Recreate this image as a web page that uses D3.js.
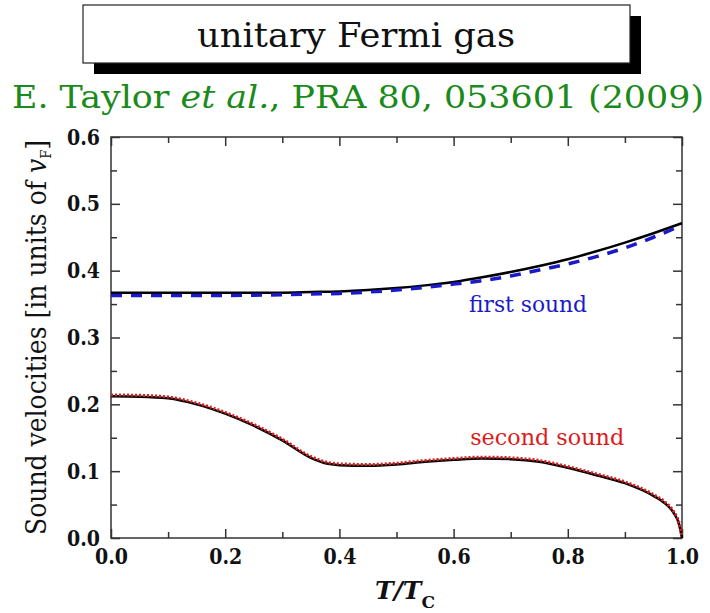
<!DOCTYPE html>
<html>
<head>
<meta charset="utf-8">
<script src="https://cdn.jsdelivr.net/npm/d3@7"></script>
<style>
  html, body { margin: 0; padding: 0; background: #fff; }
  svg { display: block; }
</style>
</head>
<body>
<svg id="chart" width="710" height="613"></svg>
<script>
// first sound (T/Tc grid)
const tFirst = [0, 0.1, 0.2, 0.3, 0.35, 0.4, 0.45, 0.5, 0.55, 0.6, 0.65, 0.7, 0.75, 0.8, 0.85, 0.9, 0.95, 1.0]
const firstSoundBlack = [0.367, 0.367, 0.367, 0.367, 0.368, 0.369, 0.371, 0.374, 0.378, 0.383, 0.390, 0.398, 0.407, 0.417, 0.429, 0.442, 0.456, 0.471]
const firstSoundBlue = [0.363, 0.363, 0.363, 0.364, 0.365, 0.366, 0.368, 0.371, 0.375, 0.380, 0.385, 0.392, 0.401, 0.410, 0.421, 0.434, 0.450, 0.468]

// second sound
const tSecond = [0, 0.05, 0.1, 0.15, 0.2, 0.25, 0.3, 0.35, 0.38, 0.4, 0.45, 0.5, 0.55, 0.6, 0.65, 0.7, 0.75, 0.8, 0.85, 0.9, 0.95, 0.97, 0.985, 0.995, 1.0]
const secondSoundBlack = [0.212, 0.2115, 0.209, 0.200, 0.186, 0.168, 0.146, 0.120, 0.111, 0.109, 0.108, 0.110, 0.114, 0.117, 0.119, 0.118, 0.114, 0.105, 0.094, 0.082, 0.063, 0.052, 0.038, 0.020, 0.0]
const secondSoundRed = [0.214, 0.2135, 0.211, 0.202, 0.188, 0.170, 0.148, 0.122, 0.113, 0.111, 0.110, 0.112, 0.116, 0.119, 0.121, 0.120, 0.116, 0.107, 0.096, 0.084, 0.065, 0.054, 0.040, 0.022, 0.002]

const xTickLabels = ['0.0', '0.2', '0.4', '0.6', '0.8', '1.0']
const yTickLabels = ['0.0', '0.1', '0.2', '0.3', '0.4', '0.5', '0.6']

// curve labels [T, value, text, colour, width]
const curveLabels = [
  [0.627, 0.338, 'first sound', '#1a1ac8', 118],
  [0.629, 0.139, 'second sound', '#dd1a1a', 154],
]

const serif = 'DejaVu Serif'
const marginLeft = 111
const marginTop = 137
const width = 571
const height = 401

const svg = d3.select('#chart')

// title box with shadow
svg.append('rect')
  .attr('x', 94).attr('y', 16).attr('width', 547).attr('height', 58)
  .attr('fill', '#000')
svg.append('rect')
  .attr('x', 83).attr('y', 5).attr('width', 547).attr('height', 58)
  .attr('fill', '#fff').attr('stroke', '#222').attr('stroke-width', 1.2)
svg.append('text')
  .attr('x', 356).attr('y', 47)
  .attr('text-anchor', 'middle')
  .attr('font-family', serif)
  .attr('font-size', 34)
  .attr('textLength', 318)
  .attr('lengthAdjust', 'spacingAndGlyphs')
  .attr('fill', '#111')
  .text('unitary Fermi gas')

// reference line (green)
const ref = svg.append('text')
  .attr('x', 12).attr('y', 108)
  .attr('font-family', serif)
  .attr('font-size', 31)
  .attr('fill', '#1a8a1a')
  .attr('textLength', 692)
  .attr('lengthAdjust', 'spacingAndGlyphs')
ref.append('tspan').text('E. Taylor ')
ref.append('tspan').attr('font-style', 'italic').text('et al.')
ref.append('tspan').text(', PRA 80, 053601 (2009)')

const x = d3.scaleLinear().domain([0, 1]).range([0, width])
const y = d3.scaleLinear().domain([0, 0.6]).range([height, 0])

const g = svg.append('g').attr('transform', `translate(${marginLeft} ${marginTop})`)

const tickFont = (sel) => sel.selectAll('text')
  .attr('font-family', serif)
  .attr('font-weight', 'bold')
  .attr('font-size', 22)
  .attr('fill', '#111')
  .attr('textLength', 33)
  .attr('lengthAdjust', 'spacingAndGlyphs')

const noDomain = (sel) => sel.select('.domain').remove()
const tickStyle = (sel) => sel.selectAll('line').attr('stroke', '#333').attr('stroke-width', 1.5)

const xMajor = d3.range(0, 1.0001, 0.2)
const xMinor = d3.range(0.1, 1, 0.2)
const yMajor = d3.range(0, 0.6001, 0.1)
const yMinor = d3.range(0.05, 0.6, 0.1)

// bottom axis
g.append('g').attr('transform', `translate(0 ${height})`)
  .call(d3.axisBottom(x).tickValues(xMajor).tickSize(-9).tickPadding(10)
    .tickFormat((d, i) => xTickLabels[i]))
  .call(noDomain).call(tickStyle).call(tickFont)
g.append('g').attr('transform', `translate(0 ${height})`)
  .call(d3.axisBottom(x).tickValues(xMinor).tickSize(-6).tickFormat(''))
  .call(noDomain).call(tickStyle)

// top axis
g.append('g')
  .call(d3.axisTop(x).tickValues(xMajor).tickSize(-9).tickFormat(''))
  .call(noDomain).call(tickStyle)
g.append('g')
  .call(d3.axisTop(x).tickValues(xMinor).tickSize(-6).tickFormat(''))
  .call(noDomain).call(tickStyle)

// left axis
g.append('g')
  .call(d3.axisLeft(y).tickValues(yMajor).tickSize(-9).tickPadding(11)
    .tickFormat((d, i) => yTickLabels[i]))
  .call(noDomain).call(tickStyle).call(tickFont)
g.append('g')
  .call(d3.axisLeft(y).tickValues(yMinor).tickSize(-6).tickFormat(''))
  .call(noDomain).call(tickStyle)

// right axis
g.append('g').attr('transform', `translate(${width} 0)`)
  .call(d3.axisRight(y).tickValues(yMajor).tickSize(-9).tickFormat(''))
  .call(noDomain).call(tickStyle)
g.append('g').attr('transform', `translate(${width} 0)`)
  .call(d3.axisRight(y).tickValues(yMinor).tickSize(-6).tickFormat(''))
  .call(noDomain).call(tickStyle)

// frame
g.append('rect')
  .attr('width', width).attr('height', height)
  .attr('fill', 'none').attr('stroke', '#333').attr('stroke-width', 1.5)

const line = (ts) => d3.line()
  .x((d, i) => x(ts[i]))
  .y((d) => y(d))
  .curve(d3.curveMonotoneX)

g.append('path').datum(firstSoundBlack)
  .attr('fill', 'none').attr('stroke', '#000').attr('stroke-width', 2.5)
  .attr('d', line(tFirst))
g.append('path').datum(firstSoundBlue)
  .attr('fill', 'none').attr('stroke', '#1a1ac8').attr('stroke-width', 3.5)
  .attr('stroke-dasharray', '11 9')
  .attr('d', line(tFirst))

g.append('path').datum(secondSoundBlack)
  .attr('fill', 'none').attr('stroke', '#000').attr('stroke-width', 2.5)
  .attr('d', line(tSecond))
g.append('path').datum(secondSoundRed)
  .attr('fill', 'none').attr('stroke', '#dd1a1a').attr('stroke-width', 3)
  .attr('stroke-dasharray', '2 2')
  .attr('d', line(tSecond))

// curve labels
g.selectAll('.curve-label').data(curveLabels).join('text')
  .attr('class', 'curve-label')
  .attr('x', (d) => x(d[0]))
  .attr('y', (d) => y(d[1]))
  .attr('font-family', serif)
  .attr('font-size', 22)
  .attr('fill', (d) => d[3])
  .attr('textLength', (d) => d[4])
  .attr('lengthAdjust', 'spacingAndGlyphs')
  .text((d) => d[2])

// y axis title
const yt = svg.append('text')
  .attr('transform', `translate(46 ${marginTop + height / 2}) rotate(-90)`)
  .attr('text-anchor', 'middle')
  .attr('font-family', serif)
  .attr('font-size', 27)
  .attr('fill', '#111')
  .attr('textLength', 395)
  .attr('lengthAdjust', 'spacingAndGlyphs')
yt.append('tspan').text('Sound velocities [in units of ')
yt.append('tspan').attr('font-style', 'italic').text('v')
yt.append('tspan').attr('font-size', 14).attr('dy', 5).text('F')
yt.append('tspan').attr('dy', -5).text(']')

// x axis title
const xt = svg.append('text')
  .attr('x', 405).attr('y', 599)
  .attr('text-anchor', 'middle')
  .attr('font-family', serif)
  .attr('font-weight', 'bold')
  .attr('font-size', 25)
  .attr('fill', '#111')
xt.append('tspan').attr('font-style', 'italic').text('T/T')
xt.append('tspan').attr('font-size', 17).attr('dy', 9).text('C')
</script>
</body>
</html>
